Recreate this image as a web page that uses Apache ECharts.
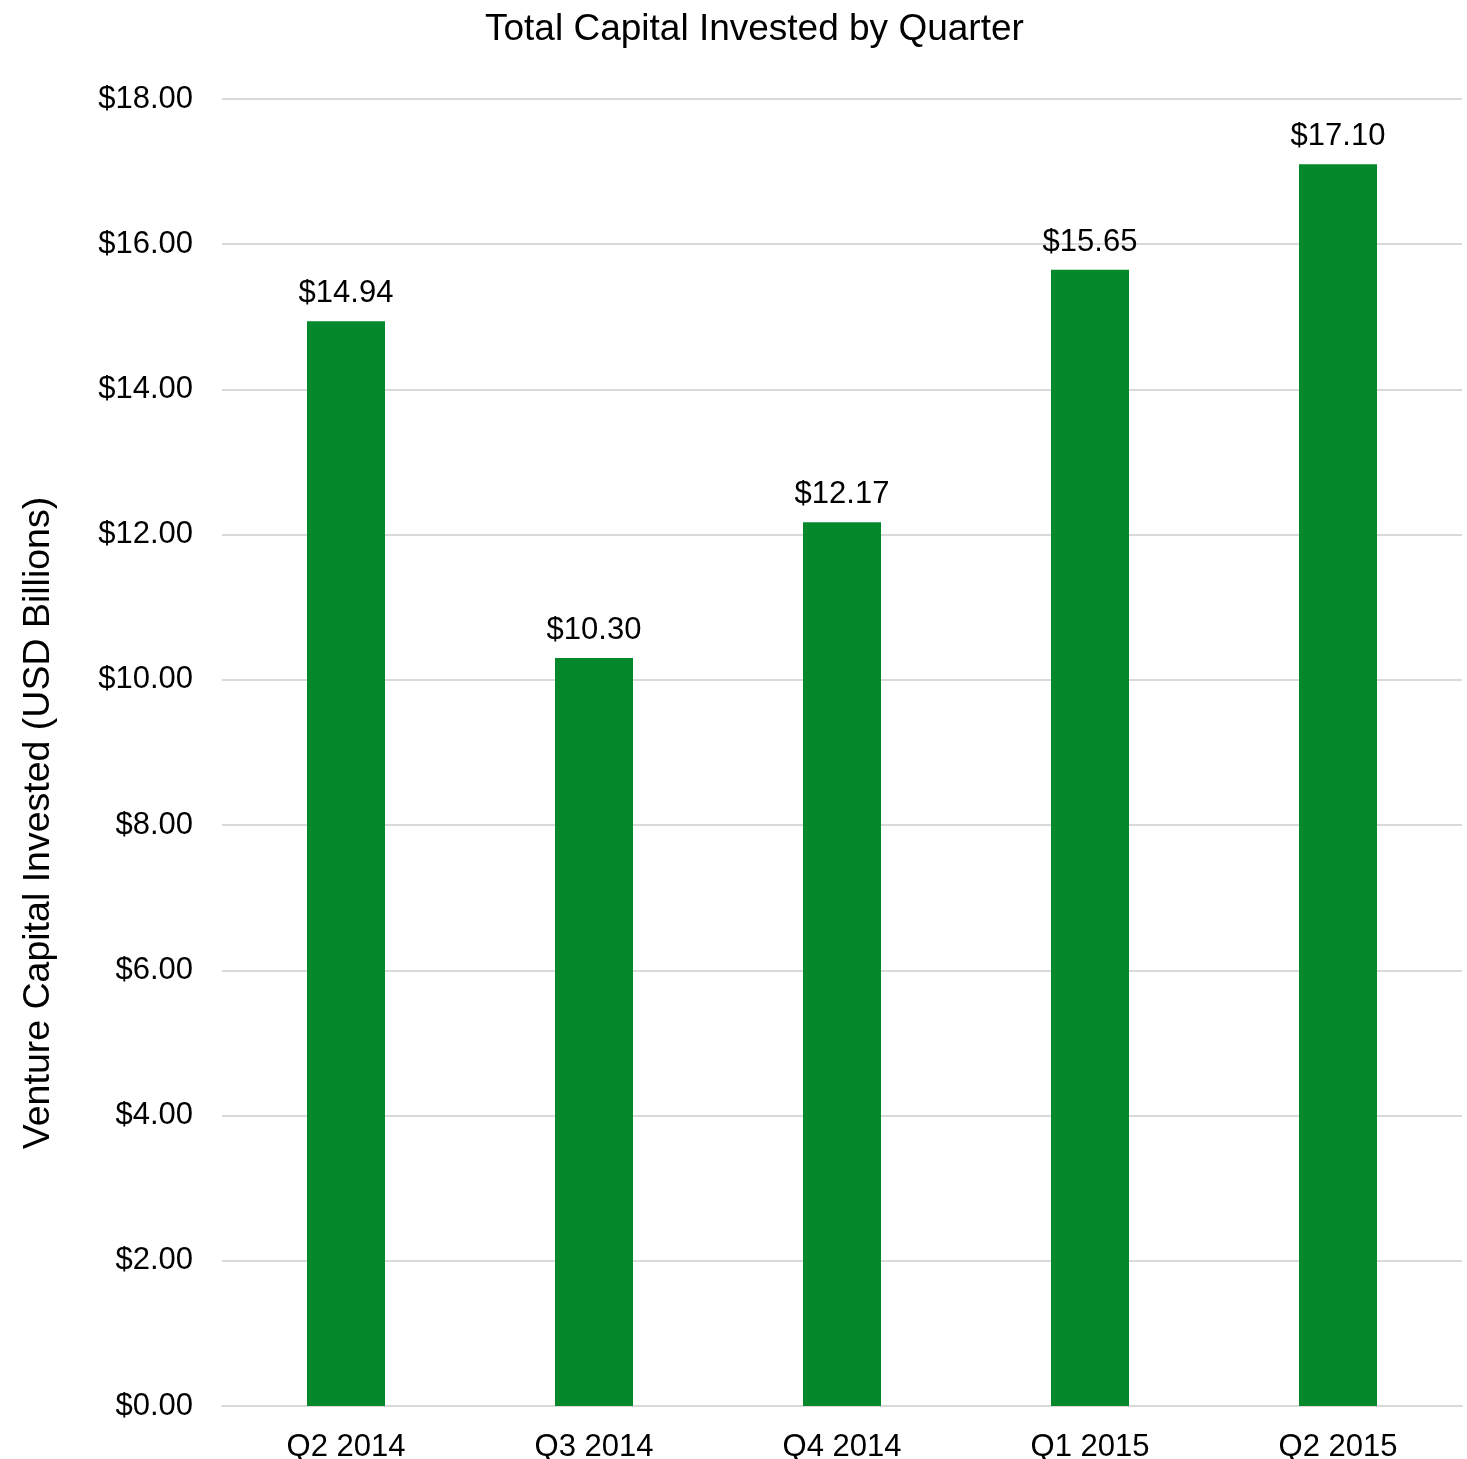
<!DOCTYPE html>
<html>
<head>
<meta charset="utf-8">
<title>Total Capital Invested by Quarter</title>
<script src="https://cdn.jsdelivr.net/npm/echarts@6/dist/echarts.min.js"></script>
<style>
  html, body { margin: 0; padding: 0; background: #ffffff; }
  #chart { width: 1467px; height: 1459px; }
</style>
</head>
<body>
<div id="chart"></div>
<script>
// Quarterly venture capital totals, USD billions
var quarters = ['Q2 2014', 'Q3 2014', 'Q4 2014', 'Q1 2015', 'Q2 2015'];
var capitalInvested = [14.94, 10.30, 12.17, 15.65, 17.10];
var yTicks = { min: 0, max: 18, interval: 2 };

var FONT = "'Liberation Sans', Arial, Helvetica, sans-serif";
var money = function (v) { return '$' + Number(v).toFixed(2); };

var chart = echarts.init(document.getElementById('chart'), null, { renderer: 'canvas' });

chart.setOption({
  backgroundColor: '#ffffff',
  animation: false,
  title: {
    text: 'Total Capital Invested by Quarter',
    left: 485,
    top: 11,
    padding: 0,
    textStyle: { fontFamily: FONT, fontSize: 37, fontWeight: 'normal', color: '#000000' }
  },
  grid: {
    left: 222, right: 5, top: 99, bottom: 53,
    containLabel: false,
    outerBoundsMode: 'none'
  },
  xAxis: {
    type: 'category',
    data: quarters,
    axisLine: { show: true, lineStyle: { color: '#d9d9d9', width: 2 } },
    axisTick: { show: false },
    axisLabel: { fontFamily: FONT, fontSize: 31, color: '#000000', margin: 26 }
  },
  yAxis: {
    type: 'value',
    min: yTicks.min,
    max: yTicks.max,
    interval: yTicks.interval,
    name: 'Venture Capital Invested (USD Billions)',
    nameLocation: 'middle',
    nameRotate: 90,
    nameGap: 164,
    // the title sits a little below the middle of the value axis
    nameTextStyle: { fontFamily: FONT, fontSize: 37.5, color: '#000000', padding: [0, 141, 0, 0] },
    axisLine: { show: false },
    axisTick: { show: false },
    splitLine: { show: true, lineStyle: { color: '#d9d9d9', width: 2 } },
    axisLabel: {
      fontFamily: FONT, fontSize: 31, color: '#000000', margin: 29,
      padding: [4, 0, 0, 0],
      formatter: money
    }
  },
  series: [{
    type: 'bar',
    data: capitalInvested,
    barWidth: 78,
    itemStyle: { color: '#03882c' },
    label: {
      show: true,
      position: 'top',
      distance: 12,
      fontFamily: FONT,
      fontSize: 31,
      color: '#000000',
      formatter: function (p) { return money(p.value); }
    }
  }]
});
</script>
</body>
</html>
